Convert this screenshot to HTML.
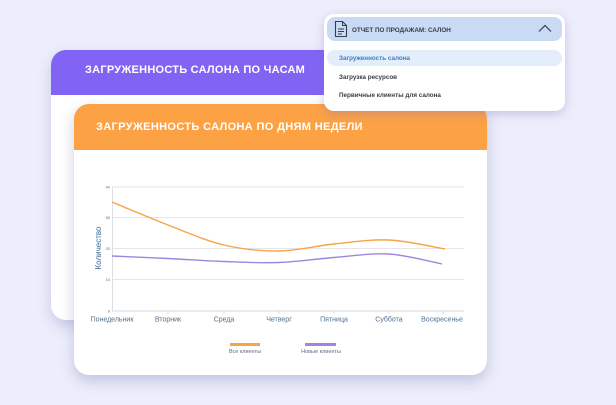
<!DOCTYPE html>
<html>
<head>
<meta charset="utf-8">
<style>
  html,body{margin:0;padding:0;}
  body{width:616px;height:405px;background:#edeefb;position:relative;overflow:hidden;font-family:"Liberation Sans","DejaVu Sans",sans-serif;}
  .card{position:absolute;background:#fff;border-radius:15px;overflow:hidden;}
  #purple{left:51px;top:50px;width:380px;height:270px;box-shadow:0 6px 14px rgba(110,120,175,0.30);}
  #purple .hd{position:absolute;left:0;top:0;right:0;height:45px;background:#8164f4;}
  #purple .hd span{position:absolute;left:34px;top:14px;color:#fff;font-weight:bold;font-size:11px;letter-spacing:0.25px;white-space:nowrap;}
  #orange{left:74px;top:104px;width:413px;height:271px;box-shadow:0 6px 14px rgba(110,120,175,0.35);}
  #orange .hd{position:absolute;left:0;top:0;right:0;height:46px;background:#fca245;}
  #orange .hd span{position:absolute;left:22px;top:17px;color:#fff;font-weight:bold;font-size:11px;letter-spacing:0.35px;white-space:nowrap;}
  #dd{position:absolute;left:324px;top:14px;width:241px;height:97px;background:#fff;border-radius:10px;box-shadow:0 3px 10px rgba(130,110,190,0.35);}
  #dd .top{position:absolute;left:3px;top:3px;width:235px;height:24px;background:#c8daf4;border-radius:8px;}
  #dd .top span{position:absolute;left:25px;top:9.5px;font-size:6.3px;font-weight:bold;color:#3a3b48;white-space:nowrap;}
  #dd .sel{position:absolute;left:3px;top:36px;width:235px;height:16px;background:#e4eefb;border-radius:8px;}
  #dd .it{position:absolute;left:15px;font-size:6.3px;font-weight:bold;color:#3b3b45;white-space:nowrap;}
  svg{position:absolute;left:0;top:0;}
</style>
</head>
<body>
<div class="card" id="purple"><div class="hd"><span>ЗАГРУЖЕННОСТЬ САЛОНА ПО ЧАСАМ</span></div></div>
<div class="card" id="orange"><div class="hd"><span>ЗАГРУЖЕННОСТЬ САЛОНА ПО ДНЯМ НЕДЕЛИ</span></div></div>

<svg width="616" height="405" viewBox="0 0 616 405">
  <g stroke="#e6e6e8" stroke-width="1">
    <line x1="112" y1="187" x2="464" y2="187"/>
    <line x1="112" y1="217.5" x2="464" y2="217.5"/>
    <line x1="112" y1="248.5" x2="464" y2="248.5"/>
    <line x1="112" y1="279.5" x2="464" y2="279.5"/>
  </g>
  <line x1="112" y1="311" x2="464" y2="311" stroke="#d4d8de" stroke-width="1"/>
  <line x1="112.5" y1="187" x2="112.5" y2="311" stroke="#dcdfe4" stroke-width="1"/>
  <g stroke="#d4d8de" stroke-width="1">
    <line x1="168" y1="311" x2="168" y2="314"/>
    <line x1="224" y1="311" x2="224" y2="314"/>
    <line x1="279" y1="311" x2="279" y2="314"/>
    <line x1="334" y1="311" x2="334" y2="314"/>
    <line x1="389" y1="311" x2="389" y2="314"/>
    <line x1="443" y1="311" x2="443" y2="314"/>
  </g>
  <g font-family="Liberation Sans, sans-serif" font-size="4" fill="#666" text-anchor="end">
    <text x="110" y="188.5">40</text>
    <text x="110" y="219">30</text>
    <text x="110" y="250">20</text>
    <text x="110" y="281">10</text>
    <text x="110" y="312.5">0</text>
  </g>
  <text x="101" y="248" transform="rotate(-90 101 248)" text-anchor="middle" font-family="Liberation Sans, sans-serif" font-size="8" fill="#3c6a97">Количество</text>
  <g font-family="Liberation Sans, sans-serif" font-size="7" fill="#4f6f8f" text-anchor="middle">
    <text x="112" y="321.5">Понедельник</text>
    <text x="168" y="321.5">Вторник</text>
    <text x="224" y="321.5">Среда</text>
    <text x="279" y="321.5">Четверг</text>
    <text x="334" y="321.5">Пятница</text>
    <text x="389" y="321.5">Суббота</text>
    <text x="442" y="321.5">Воскресенье</text>
  </g>
  <path d="M112,202 C121.3,205.8 149.3,217.8 168,225 C186.7,232.2 205.5,240.7 224,245 C242.5,249.3 260.7,251.2 279,251 C297.3,250.8 315.7,245.8 334,244 C352.3,242.2 370.5,239.2 389,240 C407.5,240.8 435.7,247.5 445,249" fill="none" stroke="#f7a347" stroke-width="1.4"/>
  <path d="M112,256 C121.3,256.4 149.3,257.6 168,258.5 C186.7,259.4 205.5,260.8 224,261.5 C242.5,262.2 260.7,263.2 279,262.5 C297.3,261.8 315.7,258.9 334,257.5 C352.3,256.1 371,252.9 389,254 C407,255.1 433.2,262.3 442,264" fill="none" stroke="#9d86e0" stroke-width="1.4"/>
  <line x1="230" y1="344.5" x2="260" y2="344.5" stroke="#f7a347" stroke-width="3"/>
  <line x1="305" y1="344.5" x2="336" y2="344.5" stroke="#9d86e0" stroke-width="3"/>
  <g font-family="Liberation Sans, sans-serif" font-size="5.5" fill="#5a6c84" text-anchor="middle">
    <text x="245" y="353">Все клиенты</text>
    <text x="321" y="353">Новые клиенты</text>
  </g>
</svg>

<div id="dd">
  <div class="top">
    <svg width="14" height="18" viewBox="0 0 14 18" style="left:7px;top:3px;">
      <path d="M1.5,1.5 H8.5 L12.5,5.5 V16.5 H1.5 Z" fill="none" stroke="#3a3b48" stroke-width="1.1" stroke-linejoin="round"/>
      <path d="M8.5,1.5 V5.5 H12.5" fill="none" stroke="#3a3b48" stroke-width="1"/>
      <line x1="4" y1="9" x2="10" y2="9" stroke="#3a3b48" stroke-width="1"/>
      <line x1="4" y1="11.5" x2="10" y2="11.5" stroke="#3a3b48" stroke-width="1"/>
      <line x1="4" y1="14" x2="8" y2="14" stroke="#3a3b48" stroke-width="1"/>
    </svg>
    <span>ОТЧЕТ ПО ПРОДАЖАМ: САЛОН</span>
    <svg width="14" height="9" viewBox="0 0 14 9" style="left:211px;top:7px;">
      <path d="M1,7.5 L7,1.5 L13,7.5" fill="none" stroke="#3a3b48" stroke-width="1.2"/>
    </svg>
  </div>
  <div class="sel"></div>
  <div class="it" style="top:41px;color:#3b7dc4;">Загруженность салона</div>
  <div class="it" style="top:60px;">Загрузка ресурсов</div>
  <div class="it" style="top:78px;">Первичные клиенты для салона</div>
</div>
</body>
</html>
